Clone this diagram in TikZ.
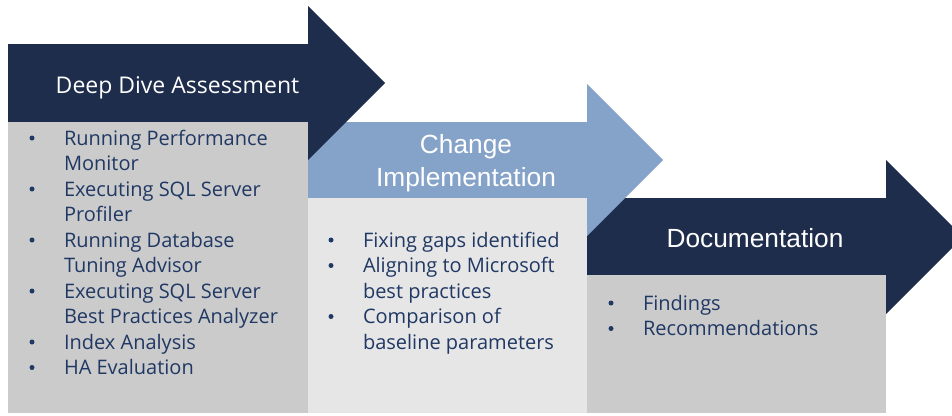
\documentclass[tikz,border=0pt]{standalone}
\usepackage{fontspec}
\setmainfont{Open Sans}
\newfontfamily\headfont{Liberation Sans}
\definecolor{navy}{HTML}{1E2D4C}
\definecolor{lblue}{HTML}{85A2C9}
\definecolor{gboxa}{HTML}{CBCBCB}
\definecolor{gboxb}{HTML}{E6E6E6}
\definecolor{txt}{HTML}{203864}
\newcommand{\blist}[1]{{\fontsize{20}{25.5}\selectfont\color{txt}\begin{tabular}[t]{@{}p{36pt}@{}l@{}}#1\end{tabular}}}
\newcommand{\bu}{\tikz[baseline=0pt]{\useasboundingbox (0,0) rectangle (8pt,1pt);\fill[txt] (4pt,7pt) circle (2.5pt);}}
\begin{document}
\begin{tikzpicture}[x=1pt,y=-1pt,
  listnode/.style={anchor=base west,inner sep=0pt,outer sep=0pt},
  headA/.style={anchor=base,inner sep=0pt,text=white,font=\fontsize{23}{28}\selectfont},
  headB/.style={anchor=base,inner sep=0pt,text=white,font=\headfont\fontsize{26.3}{33}\selectfont,align=center}]
\useasboundingbox (0,0) rectangle (952,415);
\clip (0,0) rectangle (952,415);
% stage 3
\fill[navy] (587,198) -- (886,198) -- (886,160) -- (963,237) -- (886,314) -- (886,275) -- (587,275) -- cycle;
\fill[gboxa] (587,275) rectangle (886,413);
% stage 2
\fill[lblue] (308,122) -- (587,122) -- (587,84) -- (663,160) -- (587,236) -- (587,198) -- (308,198) -- cycle;
\fill[gboxb] (308,198) rectangle (587,413);
% stage 1
\fill[navy] (8,44) -- (308,44) -- (308,6) -- (385,83) -- (308,160) -- (308,122) -- (8,122) -- cycle;
\fill[gboxa] (8,122) rectangle (308,413);
% headings
\node[headA] (h1) at (177.5,93) {Deep Dive Assessment};
\node[headB] (h2) at (466,186) {Change\\[0pt]Implementation};
\node[headB] (h3) at (755,247) {Documentation};
% lists
\node[listnode] (l1) at (28,145) {\blist{\bu & Running Performance\\ & Monitor\\ \bu & Executing SQL Server\\ & Profiler\\ \bu & Running Database\\ & Tuning Advisor\\ \bu & Executing SQL Server\\ & Best Practices Analyzer\\ \bu & Index Analysis\\ \bu & HA Evaluation}};
\node[listnode] (l2) at (327,247) {\blist{\bu & Fixing gaps identified\\ \bu & Aligning to Microsoft\\ & best practices\\ \bu & Comparison of\\ & baseline parameters}};
\node[listnode] (l3) at (607,310) {\blist{\bu & Findings\\ \bu & Recommendations}};
\end{tikzpicture}
\end{document}
